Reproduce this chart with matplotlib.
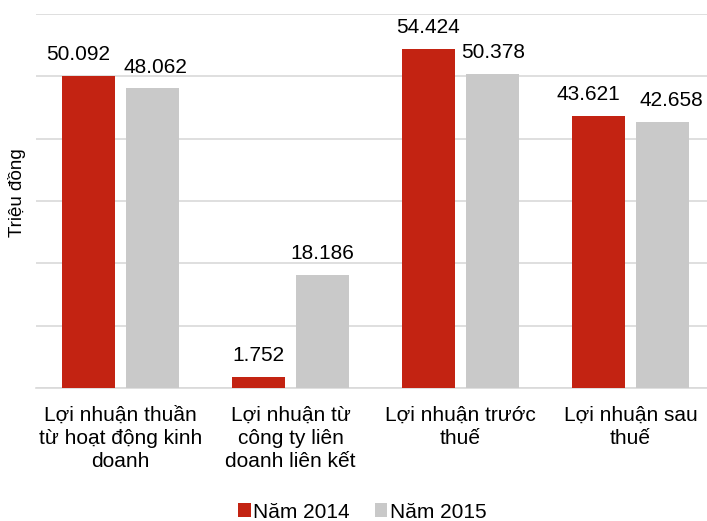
import numpy as np
import matplotlib.pyplot as plt
from matplotlib.patches import Patch

plt.rcParams['font.family'] = ['Liberation Sans', 'DejaVu Sans']

categories = ["Lợi nhuận thuần\ntừ hoạt động kinh\ndoanh",
              "Lợi nhuận từ\ncông ty liên\ndoanh liên kết",
              "Lợi nhuận trước\nthuế",
              "Lợi nhuận sau\nthuế"]
series_names = ["Năm 2014", "Năm 2015"]
vals_2014 = [50.092, 1.752, 54.424, 43.621]
vals_2015 = [48.062, 18.186, 50.378, 42.658]
labels_2014 = ["50.092", "1.752", "54.424", "43.621"]
labels_2015 = ["48.062", "18.186", "50.378", "42.658"]

RED = '#C32312'
GRAY = '#C9C9C9'
GRID = '#D9D9D9'

fig = plt.figure(figsize=(7.07, 5.21), dpi=100)
ax = fig.add_axes([35.5 / 707, 133 / 521, 680 / 707, 374 / 521])

x = np.arange(len(categories))
w = 0.31
off = 0.19
ax.bar(x - off, vals_2014, width=w, color=RED, zorder=3)
ax.bar(x + off, vals_2015, width=w, color=GRAY, zorder=3)

# push labels apart when the two bars are about the same height
for xi, a, b, sa, sb in zip(x, vals_2014, vals_2015, labels_2014, labels_2015):
    d = abs(a - b)
    if d < 1.5:
        na, nb = -0.057, 0.052
    elif d < 3:
        na, nb = -0.06, 0.015
    else:
        na, nb = 0, 0
    ax.text(xi - off + na, a + 2.55, sa, ha='center', va='baseline', fontsize=15)
    ax.text(xi + off + nb, b + 2.55, sb, ha='center', va='baseline', fontsize=15)

ax.set_xlim(-0.5, len(categories) - 0.5)
ax.set_ylim(0, 60)
ax.set_yticks(np.arange(0, 61, 10))
ax.set_yticklabels([])
ax.yaxis.grid(True, color=GRID, linewidth=1.2, zorder=0)
ax.tick_params(axis='y', length=0)
ax.set_xticks(x)
ax.set_xticklabels(categories, fontsize=15, linespacing=1.25)
ax.tick_params(axis='x', length=0, pad=13)
for sp in ['top', 'right', 'left']:
    ax.spines[sp].set_visible(False)
ax.spines['bottom'].set_color(GRID)
ax.spines['bottom'].set_linewidth(1.2)

fig.text(17 / 707, 1 - 193 / 521, "Triệu đồng", rotation=90,
         ha='center', va='center', fontsize=13.5)

fig.legend(handles=[Patch(facecolor=RED, label=series_names[0]),
                    Patch(facecolor=GRAY, label=series_names[1])],
           loc='center', bbox_to_anchor=(362 / 707, 1 - 512 / 521), ncol=2,
           frameon=False, fontsize=15, handlelength=0.62, handleheight=0.62,
           handletextpad=0.1, columnspacing=1.2, borderpad=0)

fig.savefig("out.png", dpi=100)
